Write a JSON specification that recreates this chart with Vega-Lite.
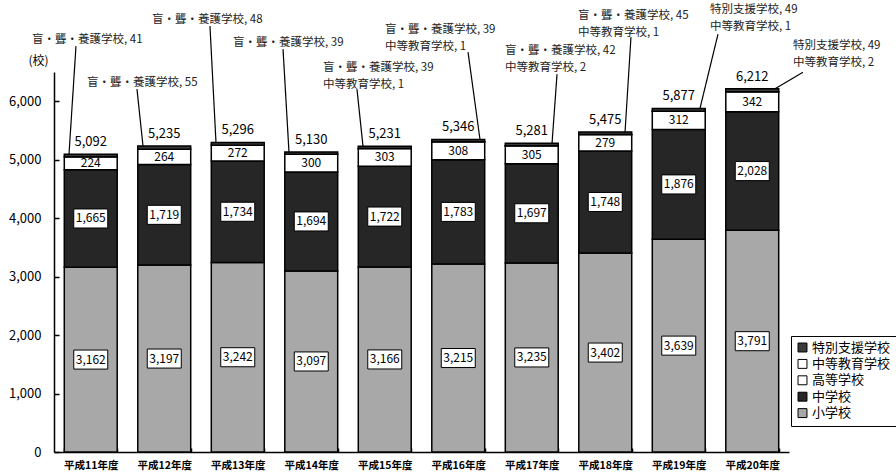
{
  "$schema": "https://vega.github.io/schema/vega-lite/v6.json",
  "width": 735,
  "height": 380,
  "autosize": {"type": "none"},
  "padding": {"left": 54, "top": 72, "right": 107, "bottom": 22},
  "background": "white",
  "config": {"view": {"stroke": null}, "font": "Noto Sans CJK JP", "text": {"color": "black"}},
  "datasets": {
    "schools": [
      {"year": "平成11年度", "type": "小学校", "n": 3162}, {"year": "平成11年度", "type": "中学校", "n": 1665}, {"year": "平成11年度", "type": "高等学校", "n": 224}, {"year": "平成11年度", "type": "中等教育学校", "n": 0}, {"year": "平成11年度", "type": "特別支援学校", "n": 41},
      {"year": "平成12年度", "type": "小学校", "n": 3197}, {"year": "平成12年度", "type": "中学校", "n": 1719}, {"year": "平成12年度", "type": "高等学校", "n": 264}, {"year": "平成12年度", "type": "中等教育学校", "n": 0}, {"year": "平成12年度", "type": "特別支援学校", "n": 55},
      {"year": "平成13年度", "type": "小学校", "n": 3242}, {"year": "平成13年度", "type": "中学校", "n": 1734}, {"year": "平成13年度", "type": "高等学校", "n": 272}, {"year": "平成13年度", "type": "中等教育学校", "n": 0}, {"year": "平成13年度", "type": "特別支援学校", "n": 48},
      {"year": "平成14年度", "type": "小学校", "n": 3097}, {"year": "平成14年度", "type": "中学校", "n": 1694}, {"year": "平成14年度", "type": "高等学校", "n": 300}, {"year": "平成14年度", "type": "中等教育学校", "n": 0}, {"year": "平成14年度", "type": "特別支援学校", "n": 39},
      {"year": "平成15年度", "type": "小学校", "n": 3166}, {"year": "平成15年度", "type": "中学校", "n": 1722}, {"year": "平成15年度", "type": "高等学校", "n": 303}, {"year": "平成15年度", "type": "中等教育学校", "n": 1}, {"year": "平成15年度", "type": "特別支援学校", "n": 39},
      {"year": "平成16年度", "type": "小学校", "n": 3215}, {"year": "平成16年度", "type": "中学校", "n": 1783}, {"year": "平成16年度", "type": "高等学校", "n": 308}, {"year": "平成16年度", "type": "中等教育学校", "n": 1}, {"year": "平成16年度", "type": "特別支援学校", "n": 39},
      {"year": "平成17年度", "type": "小学校", "n": 3235}, {"year": "平成17年度", "type": "中学校", "n": 1697}, {"year": "平成17年度", "type": "高等学校", "n": 305}, {"year": "平成17年度", "type": "中等教育学校", "n": 2}, {"year": "平成17年度", "type": "特別支援学校", "n": 42},
      {"year": "平成18年度", "type": "小学校", "n": 3402}, {"year": "平成18年度", "type": "中学校", "n": 1748}, {"year": "平成18年度", "type": "高等学校", "n": 279}, {"year": "平成18年度", "type": "中等教育学校", "n": 1}, {"year": "平成18年度", "type": "特別支援学校", "n": 45},
      {"year": "平成19年度", "type": "小学校", "n": 3639}, {"year": "平成19年度", "type": "中学校", "n": 1876}, {"year": "平成19年度", "type": "高等学校", "n": 312}, {"year": "平成19年度", "type": "中等教育学校", "n": 1}, {"year": "平成19年度", "type": "特別支援学校", "n": 49},
      {"year": "平成20年度", "type": "小学校", "n": 3791}, {"year": "平成20年度", "type": "中学校", "n": 2028}, {"year": "平成20年度", "type": "高等学校", "n": 342}, {"year": "平成20年度", "type": "中等教育学校", "n": 2}, {"year": "平成20年度", "type": "特別支援学校", "n": 49}
    ],
    "notes": [
      {"label": "盲・聾・養護学校, 41", "lx": -0.299, "ly": 7149, "tx": 0.299, "ty": 6943, "bx": 0.204, "by": 5092},
      {"label": "盲・聾・養護学校, 55", "lx": 0.449, "ly": 6411, "tx": 1.129, "ty": 6206, "bx": 1.211, "by": 5235},
      {"label": "盲・聾・養護学校, 48", "lx": 1.333, "ly": 7491, "tx": 2.122, "ty": 7286, "bx": 2.204, "by": 5296},
      {"label": "盲・聾・養護学校, 39", "lx": 2.435, "ly": 7097, "tx": 3.116, "ty": 6891, "bx": 3.197, "by": 5130},
      {"label": "盲・聾・養護学校, 39\n中等教育学校, 1", "lx": 3.66, "ly": 6669, "tx": 4.122, "ty": 6206, "bx": 4.204, "by": 5231},
      {"label": "盲・聾・養護学校, 39\n中等教育学校, 1", "lx": 4.503, "ly": 7320, "tx": 5.633, "ty": 6840, "bx": 5.796, "by": 5346},
      {"label": "盲・聾・養護学校, 42\n中等教育学校, 2", "lx": 6.136, "ly": 6960, "tx": 6.844, "ty": 6463, "bx": 6.776, "by": 5281},
      {"label": "盲・聾・養護学校, 45\n中等教育学校, 1", "lx": 7.129, "ly": 7560, "tx": 7.85, "ty": 7097, "bx": 7.769, "by": 5475},
      {"label": "特別支援学校, 49\n中等教育学校, 1", "lx": 8.925, "ly": 7663, "tx": 9.034, "ty": 7149, "bx": 8.789, "by": 5877},
      {"label": "特別支援学校, 49\n中等教育学校, 2", "lx": 10.054, "ly": 7046, "tx": 10.19, "ty": 6497, "bx": 9.81, "by": 6212}
    ]
  },
  "resolve": {"scale": {"x": "independent"}},
  "layer": [
    {
      "data": {"name": "schools"},
      "transform": [
        {"calculate": "indexof(['小学校','中学校','高等学校','中等教育学校','特別支援学校'], datum.type)", "as": "k"},
        {"stack": "n", "groupby": ["year"], "sort": [{"field": "k", "order": "ascending"}], "as": ["s0", "s1"]},
        {"calculate": "(datum.s0 + datum.s1) / 2", "as": "mid"}
      ],
      "layer": [
        {
          "mark": {"type": "bar", "stroke": "black", "strokeWidth": 1.5},
          "encoding": {
            "x": {"field": "year", "type": "nominal", "sort": null,
              "scale": {"paddingInner": 0.28, "paddingOuter": 0.14},
              "axis": {"title": null, "tickBand": "extent", "tickSize": -4, "tickColor": "black", "tickWidth": 1.5, "labelAngle": 0, "labelFontSize": 10.5, "labelFontWeight": "bold", "labelColor": "black", "labelPadding": 12, "domainColor": "black", "domainWidth": 1.5}},
            "y": {"field": "s0", "type": "quantitative",
              "scale": {"domain": [0, 6500], "nice": false},
              "axis": {"values": [0, 1000, 2000, 3000, 4000, 5000, 6000], "format": ",.0f", "grid": false, "title": "(校)", "titleAngle": 0, "titleX": -16, "titleY": -12, "titleAlign": "center", "titleBaseline": "middle", "titleFontSize": 12, "titleFontWeight": "normal", "titleColor": "black", "tickSize": -5, "tickColor": "black", "tickWidth": 1.5, "domainColor": "black", "domainWidth": 1.5, "labelFontSize": 13, "labelColor": "black", "labelPadding": 18}},
            "y2": {"field": "s1"},
            "color": {"field": "type", "type": "nominal",
              "scale": {"domain": ["特別支援学校", "中等教育学校", "高等学校", "中学校", "小学校"], "range": ["#3a3a3a", "#ffffff", "#ffffff", "#262626", "#a8a8a8"]},
              "legend": {"title": null, "orient": "none", "legendX": 737, "legendY": 264, "strokeColor": "black", "fillColor": "white", "padding": 5, "symbolType": "square", "symbolSize": 80, "symbolStrokeColor": "black", "symbolStrokeWidth": 1, "labelFontSize": 13, "labelColor": "black", "rowPadding": 2.4, "labelOffset": 3}},
            "order": {"field": "k", "type": "quantitative", "sort": "ascending"}
          }
        },
        {
          "transform": [{"filter": "datum.type === '小学校' || datum.type === '中学校'"}],
          "mark": {"type": "point", "shape": "M-1,-0.56H1V0.56H-1Z", "filled": true, "fill": "white", "stroke": "black", "strokeWidth": 1, "size": 1156, "opacity": 1},
          "encoding": {
            "x": {"field": "year", "type": "nominal", "sort": null},
            "y": {"field": "mid", "type": "quantitative"}
          }
        },
        {
          "transform": [{"filter": "datum.type === '小学校' || datum.type === '中学校' || datum.type === '高等学校'"}],
          "mark": {"type": "text", "fontSize": 12, "baseline": "middle", "align": "center"},
          "encoding": {
            "x": {"field": "year", "type": "nominal", "sort": null},
            "y": {"field": "mid", "type": "quantitative"},
            "text": {"field": "n", "type": "quantitative", "format": ","}
          }
        },
        {
          "transform": [{"aggregate": [{"op": "sum", "field": "n", "as": "total"}], "groupby": ["year"]}],
          "mark": {"type": "text", "fontSize": 13, "baseline": "bottom", "dy": -5, "align": "center"},
          "encoding": {
            "x": {"field": "year", "type": "nominal", "sort": null},
            "y": {"field": "total", "type": "quantitative"},
            "text": {"field": "total", "type": "quantitative", "format": ","}
          }
        }
      ]
    },
    {
      "data": {"name": "notes"},
      "layer": [
        {
          "mark": {"type": "rule", "color": "black", "strokeWidth": 1.2},
          "encoding": {
            "x": {"field": "tx", "type": "quantitative", "scale": {"domain": [0, 10], "nice": false, "zero": false}, "axis": null},
            "x2": {"field": "bx"},
            "y": {"field": "ty", "type": "quantitative"},
            "y2": {"field": "by"}
          }
        },
        {
          "mark": {"type": "text", "align": "left", "baseline": "top", "fontSize": 11.5, "lineBreak": "\n", "lineHeight": 17, "color": "#222"},
          "encoding": {
            "x": {"field": "lx", "type": "quantitative", "scale": {"domain": [0, 10], "nice": false, "zero": false}, "axis": null},
            "y": {"field": "ly", "type": "quantitative"},
            "text": {"field": "label", "type": "nominal"}
          }
        }
      ]
    }
  ]
}
